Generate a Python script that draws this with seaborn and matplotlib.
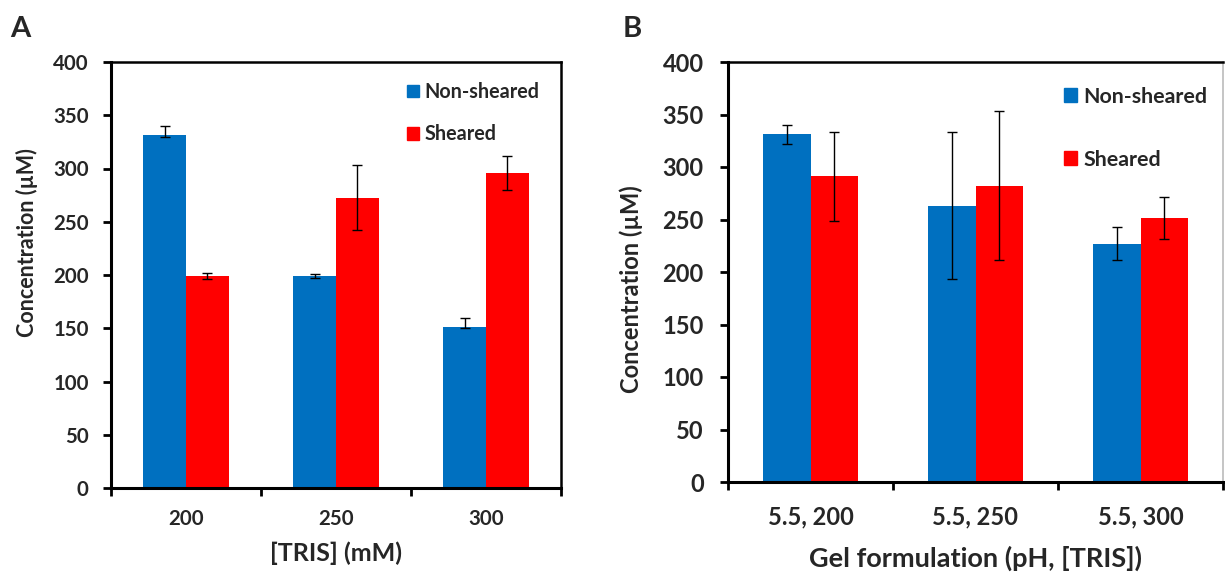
import numpy as np
import pandas as pd
import matplotlib
matplotlib.use("Agg")
import matplotlib.pyplot as plt
import seaborn as sns
from matplotlib.patches import Patch
from matplotlib import font_manager as fm

# ---------------- data ----------------
series = ["Non-sheared", "Sheared"]
colors = ["#0070C0", "#FF0000"]

a_categories = ["200", "250", "300"]
a_nonsheared = [331, 199, 151]
a_sheared = [199, 272, 296]
a_ns_err_low = [1, 1.5, 1]
a_ns_err_high = [9, 2, 9]
a_s_err_low = [2.5, 30, 16]
a_s_err_high = [2.5, 31, 16]

b_categories = ["5.5, 200", "5.5, 250", "5.5, 300"]
b_nonsheared = [331, 263, 227]
b_sheared = [291, 282, 251]
b_ns_err = [9, 70, 16]
b_s_err = [42, 71, 20]

yticks = [0, 50, 100, 150, 200, 250, 300, 350, 400]

# choose first family that really has a bold face installed
family = "DejaVu Sans"
for cand in ["Lato", "Open Sans", "Roboto", "Liberation Sans", "Noto Sans"]:
    ok = False
    for f in fm.fontManager.ttflist:
        w = f.weight if isinstance(f.weight, int) else {"bold": 700, "heavy": 800, "black": 900}.get(str(f.weight), 400)
        if f.name == cand and w >= 700 and f.style == "normal":
            ok = True
            break
    if ok:
        family = cand
        break

sns.set_theme(style="white")
plt.rcParams["font.family"] = [family, "DejaVu Sans"]
plt.rcParams["font.weight"] = "bold"

W, H = 1225, 574
fig = plt.figure(figsize=(W / 100, H / 100), dpi=100)


def px_axes(l, t, r, b):
    return fig.add_axes([l / W, 1 - b / H, (r - l) / W, (b - t) / H])


def draw_panel(ax, cats, ns, s, ns_err, s_err, tick_fs, xtick_pad, ytick_pad,
               xlabel, xlabel_fs, xlabel_pad, ylabel_fs, capsize):
    df = pd.DataFrame({
        "cat": cats * 2,
        "val": list(ns) + list(s),
        "series": [series[0]] * len(cats) + [series[1]] * len(cats),
    })
    sns.barplot(data=df, x="cat", y="val", hue="series", order=cats,
                hue_order=series, palette=colors, width=0.57, gap=0,
                errorbar=None, legend=False, ax=ax, saturation=1,
                edgecolor="none", linewidth=0)
    for cont, err in zip(ax.containers, [ns_err, s_err]):
        xs = [p.get_x() + p.get_width() / 2 for p in cont.patches]
        ys = [p.get_height() for p in cont.patches]
        ax.errorbar(xs, ys, yerr=err, fmt="none", ecolor="black",
                    elinewidth=1.0, capsize=capsize, capthick=1.0, zorder=5)
    ax.set_xlim(-0.5, len(cats) - 0.5)
    ax.set_ylim(0, 400)
    ax.set_yticks(yticks)
    ax.set_yticklabels([str(v) for v in yticks], fontsize=tick_fs, fontweight="bold")
    ax.set_xticks(range(len(cats)))
    ax.set_xticklabels(cats, fontsize=tick_fs, fontweight="bold")
    ax.set_xticks(np.arange(-0.5, len(cats)), minor=True)
    ax.tick_params(axis="x", which="major", length=0, pad=xtick_pad)
    ax.tick_params(axis="x", which="minor", length=6, width=2, color="black",
                   direction="out", bottom=True)
    ax.tick_params(axis="y", length=6, width=2, color="black", direction="out",
                   left=True, pad=ytick_pad)
    ax.set_xlabel(xlabel, fontsize=xlabel_fs, fontweight="bold", labelpad=xlabel_pad)
    ax.set_ylabel("Concentration (µM)", fontsize=ylabel_fs, fontweight="bold")
    for sp in ["left", "bottom"]:
        ax.spines[sp].set_color("black")
        ax.spines[sp].set_linewidth(2.2)
    ax.grid(False)


# Panel A
axA = px_axes(111, 62, 561, 488)
draw_panel(axA, a_categories, a_nonsheared, a_sheared,
           [a_ns_err_low, a_ns_err_high], [a_s_err_low, a_s_err_high],
           14.7, 15, 10, "[TRIS] (mM)", 18, 9, 15.5, 3.3)
for sp in ["top", "right"]:
    axA.spines[sp].set_color("black")
    axA.spines[sp].set_linewidth(1.8)
axA.yaxis.set_label_coords((38 - 111) / 450, (488 - 243) / 426)
axA.legend(handles=[Patch(color=c, label=l) for c, l in zip(colors, series)],
           loc="upper left", bbox_to_anchor=((407 - 111) / 450, (488 - 82) / 426),
           frameon=False, prop={"weight": "bold", "size": 14.2},
           handlelength=0.62, handleheight=0.62, handletextpad=0.27,
           labelspacing=1.12, borderpad=0, borderaxespad=0)

# Panel B
axB = px_axes(728, 62, 1223, 482)
draw_panel(axB, b_categories, b_nonsheared, b_sheared, b_ns_err, b_s_err,
           17, 17, 11.5, "Gel formulation (pH, [TRIS])", 19.5, 12.5, 17, 3.3)
axB.spines["top"].set_color("black")
axB.spines["top"].set_linewidth(1.8)
axB.spines["right"].set_color("#bbbbbb")
axB.spines["right"].set_linewidth(1.2)
axB.yaxis.set_label_coords((643 - 728) / 495, (482 - 289) / 420)
axB.legend(handles=[Patch(color=c, label=l) for c, l in zip(colors, series)],
           loc="upper left", bbox_to_anchor=((1064 - 728) / 495, (482 - 87) / 420),
           frameon=False, prop={"weight": "bold", "size": 15.4},
           handlelength=0.63, handleheight=0.63, handletextpad=0.28,
           labelspacing=2.0, borderpad=0, borderaxespad=0)

fig.text(10 / W, 1 - 37 / H, "A", fontsize=21, fontweight="bold", ha="left", va="baseline")
fig.text(623 / W, 1 - 37 / H, "B", fontsize=21, fontweight="bold", ha="left", va="baseline")

fig.savefig("out.png", dpi=100, facecolor="white")
